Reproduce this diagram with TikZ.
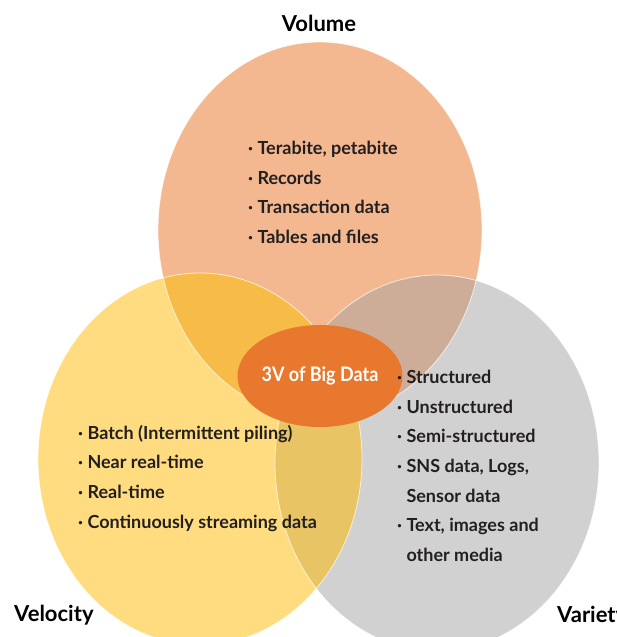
\documentclass[tikz,border=0pt]{standalone}
\usepackage{fontspec}
\usetikzlibrary{shapes.geometric}
\newfontfamily\itemfont{Lato}
\newfontfamily\condfont[FakeStretch=0.9]{Lato}
\definecolor{volC}{HTML}{F4B890}
\definecolor{velC}{HTML}{FFDC80}
\definecolor{varC}{HTML}{D1D1D1}
\definecolor{volvelC}{HTML}{F7BC48}
\definecolor{volvarC}{HTML}{CDAD98}
\definecolor{velvarC}{HTML}{E8C464}
\definecolor{triC}{HTML}{DDA860}
\definecolor{coreC}{HTML}{E8782E}
\definecolor{txtC}{HTML}{231F20}
\def\volE{(320,230) ellipse [x radius=162pt, y radius=188pt]}
\def\velE{(200,459) ellipse [x radius=162pt, y radius=186pt]}
\def\varE{(437,463) ellipse [x radius=162pt, y radius=188pt]}
\tikzset{
  itemtxt/.style={anchor=base west, inner sep=0pt, text=txtC, font=\itemfont\bfseries\fontsize{18}{21}\selectfont},
  title/.style={anchor=base, inner sep=0pt, text=black, font=\itemfont\bfseries\fontsize{22}{26}\selectfont},
  rim/.style={draw=white, draw opacity=0.7, line width=0.8pt}
}
\begin{document}
\begin{tikzpicture}[x=1pt,y=-1pt]
\useasboundingbox (0,0) rectangle (617,637);
% base fills
\fill[volC] \volE;
\fill[varC] \varE;
\fill[velC] \velE;
% overlaps
\begin{scope}\clip \volE; \fill[volvelC] \velE; \end{scope}
\begin{scope}\clip \volE; \fill[volvarC] \varE; \end{scope}
\begin{scope}\clip \velE; \fill[velvarC] \varE; \end{scope}
\begin{scope}\clip \volE; \clip \velE; \fill[triC] \varE; \end{scope}
% rims
\draw[rim] \volE;
\draw[rim] \varE;
\draw[rim] \velE;
% centre
\node[ellipse, fill=coreC, minimum width=136pt, minimum height=102pt, inner sep=0pt,
      text=white, font=\condfont\bfseries\fontsize{20}{24}\selectfont] (core) at (320,376) {3V of Big Data};
% titles
\node[title] (tvol) at (319,31) {Volume};
\node[title, anchor=base west] (tvel) at (14,621) {Velocity};
\node[title, anchor=base west] (tvar) at (557,622) {Variety};
% volume items
\node[itemtxt] (a1) at (248,154) {· Terabite, petabite};
\node[itemtxt] (a2) at (248,184) {· Records};
\node[itemtxt] (a3) at (248,213) {· Transaction data};
\node[itemtxt] (a4) at (248,243) {· Tables and files};
% velocity items
\node[itemtxt] (b1) at (78,439) {· Batch (Intermittent piling)};
\node[itemtxt] (b2) at (78,468) {· Near real-time};
\node[itemtxt] (b3) at (78,498) {· Real-time};
\node[itemtxt] (b4) at (78,528) {· Continuously streaming data};
% variety items
\node[itemtxt] (c1) at (397,383) {· Structured};
\node[itemtxt] (c2) at (397,413) {· Unstructured};
\node[itemtxt] (c3) at (397,442) {· Semi-structured};
\node[itemtxt] (c4) at (397,472) {· SNS data, Logs,};
\node[itemtxt] (c5) at (397,502) {\phantom{·\ }Sensor data};
\node[itemtxt] (c6) at (397,531) {· Text, images and};
\node[itemtxt] (c7) at (397,561) {\phantom{·\ }other media};
\end{tikzpicture}
\end{document}
